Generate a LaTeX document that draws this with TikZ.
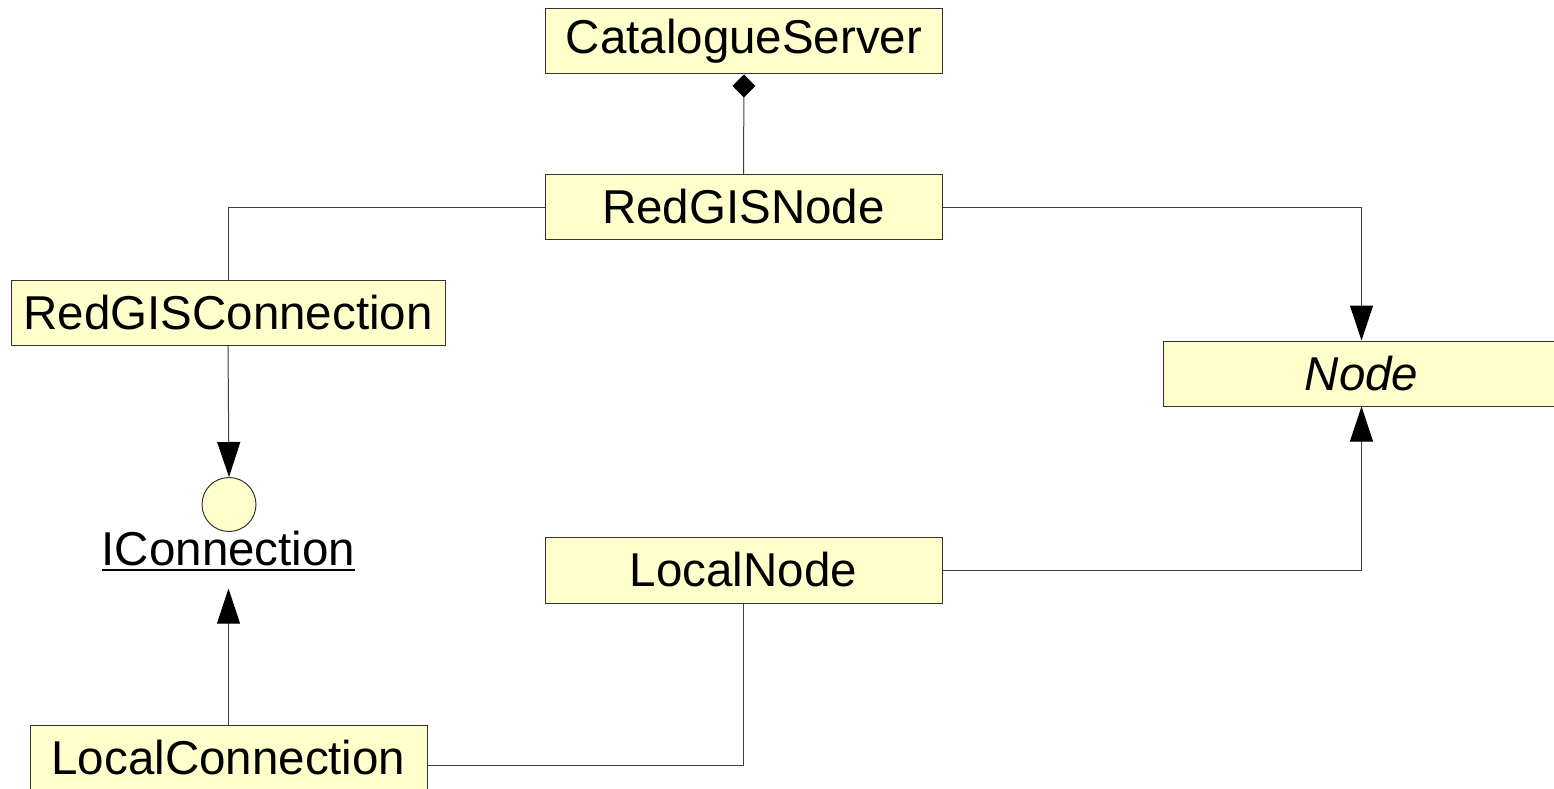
\documentclass[tikz,border=0pt]{standalone}
\usepackage{fontspec}
\setmainfont{Liberation Sans}
\usetikzlibrary{arrows.meta,calc}
\definecolor{classfill}{HTML}{FFFFCC}
\definecolor{edgecol}{HTML}{333333}
\definecolor{linecol}{HTML}{404040}
\tikzset{
  classbox/.style={draw=edgecol, line width=1pt, fill=classfill, inner sep=0pt,
    minimum width=397pt, minimum height=65pt,
    font=\fontsize{47.5}{57}\selectfont},
  iface/.style={draw=edgecol, line width=1pt, fill=classfill, circle, inner sep=0pt, minimum size=54pt},
  conn/.style={draw=linecol, line width=1pt},
  genarrow/.style={conn, -{Triangle[length=35pt,width=23pt,black]}},
  comparrow/.style={conn, -{Diamond[length=23pt,width=23pt,black]}},
  lbltext/.style={inner sep=0pt, font=\fontsize{47.5}{57}\selectfont}
}
\begin{document}
\begin{tikzpicture}[x=1pt,y=-1pt]
\useasboundingbox (0,0) rectangle (1554,789);
% classes
\node[classbox] (cs)  at (744,41.5)   {CatalogueServer};
\node[classbox] (rgn) at (743.5,207)  {RedGISNode};
\node[classbox, minimum width=434pt] (rgc) at (228,313) {RedGISConnection};
\node[classbox] (nd)  at (1361.5,373.5) {\itshape Node};
\node[classbox, minimum height=66pt] (ln)  at (743.5,570)  {LocalNode};
\node[classbox] (lc)  at (228.5,757.5) {LocalConnection};
% interface
\node[iface] (ic) at (229,504.5) {};
\node[lbltext, anchor=base] (icl) at (228.5,565) {IConnection};
\draw[draw=black, line width=2.5pt] ([yshift=-5pt]icl.base west) -- ([yshift=-5pt]icl.base east);
% connectors
\draw[comparrow] (rgn.north) -- (cs.south);
\draw[conn] (rgn.west) -| (rgc.north);
\draw[genarrow] (rgc.south) -- (ic.north);
\draw[genarrow] (lc.north) -- ([yshift=-23pt]icl.south);
\draw[genarrow] (rgn.east) -| (nd.north);
\draw[genarrow] (ln.east) -| (nd.south);
\draw[conn] ([yshift=-7.5pt]lc.east) -| (ln.south);
\end{tikzpicture}
\end{document}
